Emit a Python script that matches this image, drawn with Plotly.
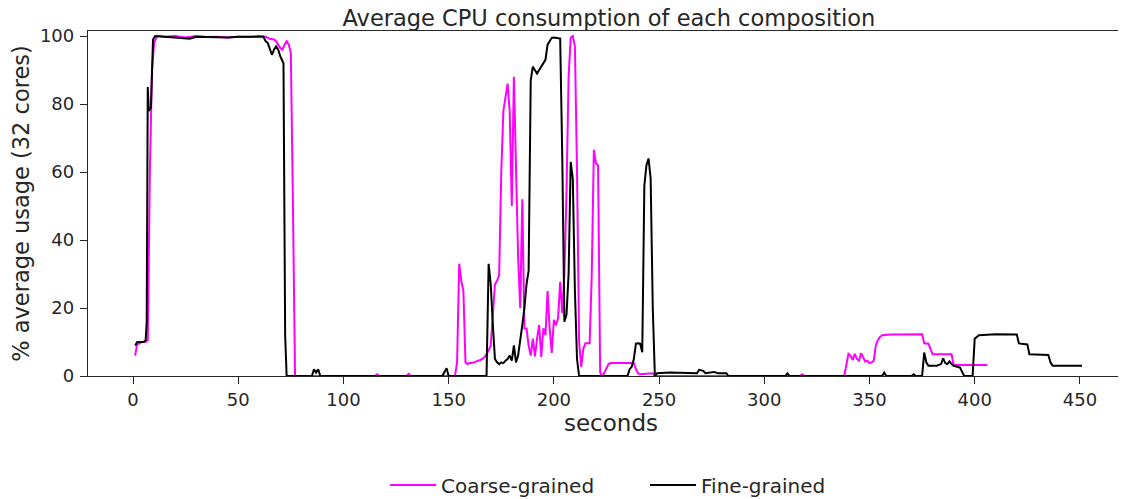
import plotly.graph_objects as go

# ---- data ----
coarse_t = [1, 2, 3, 4, 5, 6, 7, 8, 9, 10, 11, 12, 15, 20, 25, 30, 35, 40, 45, 50, 55, 60, 63, 65, 67, 68, 70, 71, 72, 73, 74, 75, 76, 77,
            115, 116, 117, 130, 131, 132, 153, 154, 155, 156, 157, 158, 159, 160, 161, 162, 163, 164, 165, 166, 167, 168, 169, 170,
            171, 172, 173, 174, 175, 176, 177, 178, 179, 180, 181, 182, 183, 184, 185, 186, 187, 188, 189, 190, 191, 192, 193, 194,
            195, 196, 197, 198, 199, 200, 201, 202, 203, 204, 205, 206, 207, 208, 209, 210, 211, 212, 213, 214, 215, 216, 217, 218,
            219, 220, 221, 222, 223, 224, 225, 226, 227, 232, 238, 239, 240, 241, 244, 247, 248, 317, 318, 319, 338, 339, 340, 341,
            342, 343, 344, 345, 346, 347, 348, 349, 350, 351, 352, 353, 354, 355, 356, 360, 365, 370, 375, 376, 377, 378, 379, 380,
            385, 389, 390, 395, 400, 406]
coarse_v = [6, 9.5, 9.5, 10, 10, 10, 10.5, 60, 90, 98, 99.5, 100, 99.8, 100, 99.6, 100, 99.7, 99.8, 99.6, 99.8, 99.7, 100, 99.8, 99.2, 99, 98.5, 96.5, 96, 97.5, 98.5, 97.5, 95, 50, 0,
            0, 0.5, 0, 0, 0.6, 0, 0, 4, 33, 28, 25, 4, 3.5, 3.8, 3.8, 4, 4.2, 4.3, 4.7, 5, 5.5, 6.5, 7.5, 9,
            18, 27, 28, 29.7, 60, 78, 82, 86, 78, 50, 88, 62, 35, 20, 52, 14, 14, 9, 6, 11, 5.8, 11, 15, 5.6,
            14, 12, 25, 14, 6.8, 16.5, 15, 17, 27.7, 18.5, 30, 54, 88, 99.5, 100, 97, 60, 10, 2.7, 8, 9.6, 9.6, 9.6, 30,
            66.5, 62.5, 62, 1, 0, 1, 2.5, 3.5, 3.8, 3.8, 3.8, 2, 0.8, 0.5, 0.6, 0.8, 0, 0, 0.5, 0, 0, 3, 6.5, 6,
            4.7, 6.5, 5, 4.5, 6.7, 5.5, 4.2, 4.5, 3.8, 4, 4.5, 9, 10.6, 11.5, 12, 12.2, 12.3, 12.3, 12.3, 9.6, 9.6, 9.5, 8, 6.4,
            6.4, 6.4, 3.2, 3.2, 3.2, 3.2]

fine_t = [1, 2, 3, 4, 5, 6, 6.5, 7, 7.5, 8.5, 9.5, 10.5, 15, 20, 27, 30, 35, 40, 45, 50, 55, 60, 62, 63, 64, 65, 66, 67, 68, 69, 70, 71.5, 72.3, 73,
          85, 86, 87, 88, 89, 147, 148, 149, 150, 168, 169, 170, 171, 172, 173, 174, 175, 176, 177, 178, 179, 180, 181, 182, 183,
          184, 185, 186, 187, 188, 189, 190, 191, 192, 193, 194, 195, 196, 197, 198, 199, 200, 201, 202, 203, 204, 205, 206, 207,
          208, 209, 210, 211, 212, 235, 236, 237, 238, 239, 240, 241, 242, 243, 244, 245, 246, 247, 248, 249, 255, 262, 268, 269,
          271, 272, 276, 278, 279, 282, 283, 310, 311, 312, 356, 357, 358, 370, 371, 372, 375, 376, 377, 378, 382, 384, 385, 386,
          387, 388, 389, 390, 393, 394, 395, 399, 400, 401, 402, 410, 420, 421, 425, 426, 435, 436, 437, 445, 451]
fine_v = [9, 10, 10, 10, 10, 10.5, 16, 85, 78, 79, 99, 100, 99.8, 99.6, 99.2, 99.8, 99.7, 99.8, 99.6, 99.8, 99.7, 99.8, 99.8, 98.5, 98, 96.5, 94.5, 96, 97, 96, 94, 92, 12, 0,
          0, 2, 1, 2, 0, 0, 1, 2.3, 0, 0, 33, 27, 15, 5, 4, 3.5, 4, 3.8, 4.5, 5, 6, 4.5, 9, 4, 6,
          10, 15, 20, 27, 31, 87, 91, 90, 89, 90, 91, 92, 93, 97.5, 98.5, 99.5, 99.6, 99.5, 99.5, 99.3, 64, 16, 18, 30,
          63, 58, 25, 5, 0, 0, 2, 2.7, 5, 9.5, 9.6, 9.5, 7, 56, 62, 64, 58, 20, 0, 0.8, 1, 0.8, 0.8, 1.8,
          1.5, 0.8, 1.2, 0.8, 0.8, 0.8, 0, 0, 0.8, 0, 0, 1, 0, 0, 0.5, 0, 0, 6.9, 4, 3, 3, 3.5, 5.2, 3.8,
          3.5, 4.3, 3.5, 3, 2.5, 1, 0, 0, 11, 11.5, 12, 12.3, 12.2, 9.6, 9.3, 6.4, 6.2, 4, 3, 3, 3]

x_ticks = [0, 50, 100, 150, 200, 250, 300, 350, 400, 450]
y_ticks = [0, 20, 40, 60, 80, 100]

TEXT = "#262626"
FONT = "DejaVu Sans"

fig = go.Figure()
fig.add_trace(go.Scatter(x=coarse_t, y=coarse_v, mode="lines", name="Coarse-grained",
                         line=dict(color="#ff00ff", width=2)))
fig.add_trace(go.Scatter(x=fine_t, y=fine_v, mode="lines", name="Fine-grained",
                         line=dict(color="#000000", width=2)))

fig.update_layout(
    width=1126, height=499,
    margin=dict(l=80, r=0, t=23, b=131, autoexpand=False),
    paper_bgcolor="white", plot_bgcolor="white",
    font=dict(family=FONT, color=TEXT, size=18),
    title=dict(text="Average CPU consumption of each composition", xref="paper", x=0.498, xanchor="center",
               yref="container", y=0.979, yanchor="middle", font=dict(size=22.5, color=TEXT)),
    legend=dict(orientation="h", xref="paper", x=0.284, xanchor="left",
                yref="container", y=0.044, yanchor="middle",
                font=dict(size=20, color=TEXT), itemwidth=46, entrywidth=199, entrywidthmode="pixels"),
    showlegend=True,
)
fig.update_xaxes(range=[-21.4, 475.7], tickvals=x_ticks, showgrid=False, zeroline=False, automargin=False,
                 showline=True, linecolor=TEXT, linewidth=1.3, mirror=True,
                 ticks="outside", ticklen=7, tickwidth=1.3, tickcolor=TEXT,
                 tickfont=dict(size=18, color=TEXT),
                 title=dict(text="seconds", font=dict(size=23, color=TEXT), standoff=6))
fig.update_yaxes(range=[0, 101.5], tickvals=y_ticks, showgrid=False, zeroline=False, automargin=False,
                 showline=True, linecolor=TEXT, linewidth=1.3,
                 ticks="outside", ticklen=7, tickwidth=1.3, tickcolor=TEXT,
                 tickfont=dict(size=18, color=TEXT), ticklabelstandoff=2,
                 title=dict(text="% average usage (32 cores)", font=dict(size=22.5, color=TEXT), standoff=10))

fig.write_html("out.html")
